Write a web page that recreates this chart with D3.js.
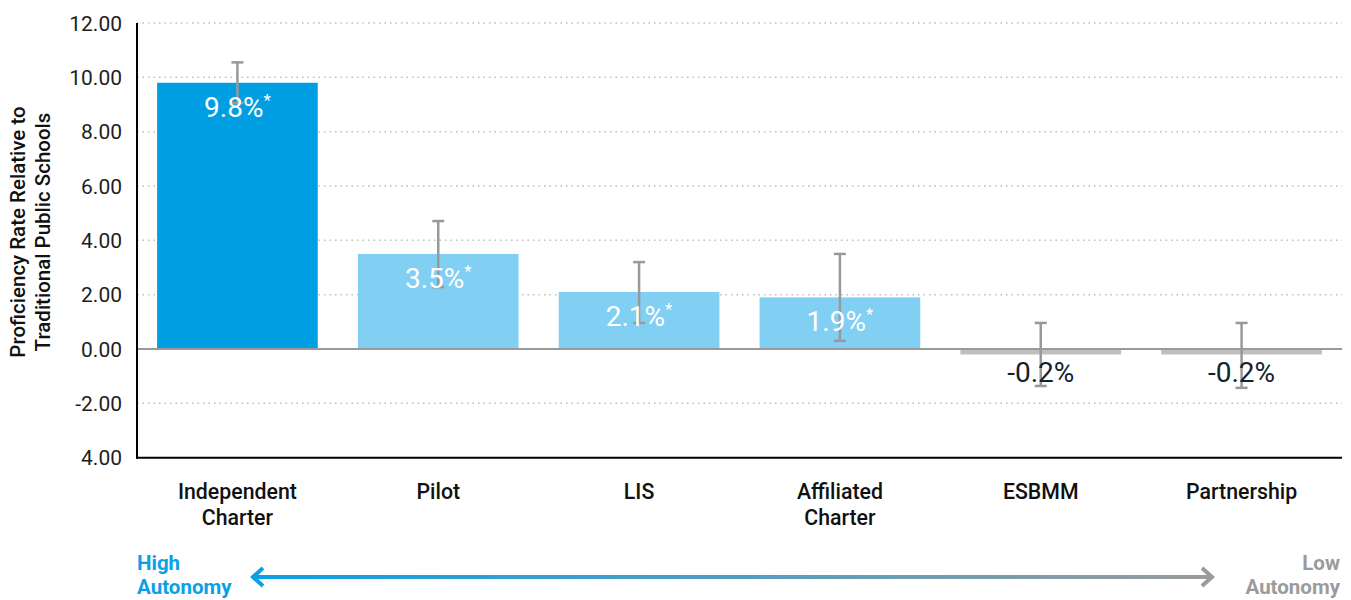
<!DOCTYPE html>
<html>
<head>
<meta charset="utf-8">
<script src="https://cdn.jsdelivr.net/npm/d3@7"></script>
<style>
  body { margin: 0; background: #fff; font-family: Roboto, "Noto Sans", sans-serif; }
</style>
</head>
<body>
<div class="chart"></div>
<script>
const width = 1351
const height = 600

const categories = [["Independent", "Charter"], ["Pilot"], ["LIS"], ["Affiliated", "Charter"], ["ESBMM"], ["Partnership"]]
const values = [9.8, 3.5, 2.1, 1.9, -0.2, -0.2]
const errLow = [9.05, 2.28, 0.96, 0.3, -1.36, -1.43]
const errHigh = [10.55, 4.71, 3.2, 3.5, 0.96, 0.96]
const labels = ["9.8%", "3.5%", "2.1%", "1.9%", "-0.2%", "-0.2%"]
const starred = [true, true, true, true, false, false]
const barColors = ["#009fe3", "#82cff4", "#82cff4", "#82cff4", "#bfbfbf", "#bfbfbf"]
const ticks = [12, 10, 8, 6, 4, 2, 0, -2, -4]
const tickText = ["12.00", "10.00", "8.00", "6.00", "4.00", "2.00", "0.00", "-2.00", "4.00"]

const svg = d3.select(".chart").append("svg")
  .attr("width", width)
  .attr("height", height)

const x = d3.scaleBand()
  .domain(d3.range(values.length))
  .range([137, 1342])
  .paddingInner(0.2)
  .paddingOuter(0.1)

const y = d3.scaleLinear()
  .domain([-4, 12])
  .range([457.7, 23])

// grid
svg.selectAll(".grid")
  .data(ticks.filter(t => t !== 0 && t !== -4))
  .enter().append("line")
  .attr("x1", 137).attr("x2", 1342)
  .attr("y1", d => y(d)).attr("y2", d => y(d))
  .attr("stroke", "#bdbdbd")
  .attr("stroke-width", 1.5)
  .attr("stroke-dasharray", "1.5 4")

// tick labels
svg.selectAll(".tick")
  .data(ticks)
  .enter().append("text")
  .attr("x", 122)
  .attr("y", d => y(d))
  .attr("dy", "0.36em")
  .attr("text-anchor", "end")
  .attr("font-size", 21)
  .attr("fill", "#1e1e1e")
  .text((d, i) => tickText[i])

// bars
svg.selectAll(".bar")
  .data(values)
  .enter().append("rect")
  .attr("x", (d, i) => x(i))
  .attr("width", x.bandwidth())
  .attr("y", d => y(Math.max(0, d)))
  .attr("height", d => Math.abs(y(d) - y(0)))
  .attr("fill", (d, i) => barColors[i])

// zero line
svg.append("line")
  .attr("x1", 137).attr("x2", 1342)
  .attr("y1", y(0)).attr("y2", y(0))
  .attr("stroke", "#9a9a9a").attr("stroke-width", 2)

// axes lines
svg.append("line")
  .attr("x1", 137).attr("x2", 137)
  .attr("y1", y(12)).attr("y2", y(-4) + 1)
  .attr("stroke", "#000").attr("stroke-width", 2)
svg.append("line")
  .attr("x1", 136).attr("x2", 1342)
  .attr("y1", y(-4)).attr("y2", y(-4))
  .attr("stroke", "#000").attr("stroke-width", 2)

// error bars
const eb = svg.selectAll(".err")
  .data(values)
  .enter().append("g")
  .attr("transform", (d, i) => `translate(${x(i) + x.bandwidth() / 2},0)`)
eb.append("line")
  .attr("y1", (d, i) => y(errLow[i])).attr("y2", (d, i) => y(errHigh[i]))
  .attr("stroke", "#999").attr("stroke-width", 2.5)
eb.append("line")
  .attr("x1", -6).attr("x2", 6)
  .attr("y1", (d, i) => y(errHigh[i])).attr("y2", (d, i) => y(errHigh[i]))
  .attr("stroke", "#999").attr("stroke-width", 2.5)
eb.append("line")
  .attr("x1", -6).attr("x2", 6)
  .attr("y1", (d, i) => y(errLow[i])).attr("y2", (d, i) => y(errLow[i]))
  .attr("stroke", "#999").attr("stroke-width", 2.5)

// value labels
const vl = svg.selectAll(".val")
  .data(values)
  .enter().append("text")
  .attr("x", (d, i) => x(i) + x.bandwidth() / 2)
  .attr("y", d => d >= 0 ? y(d) + 34 : y(0) + 33)
  .attr("text-anchor", "middle")
  .attr("font-size", 28)
  .attr("fill", d => d >= 0 ? "#fff" : "#13232c")
vl.append("tspan").text((d, i) => labels[i])
vl.append("tspan")
  .attr("font-size", 17)
  .attr("dy", -11)
  .text((d, i) => starred[i] ? "*" : "")

// category labels
svg.selectAll(".cat")
  .data(categories)
  .enter().append("text")
  .attr("x", (d, i) => x(i) + x.bandwidth() / 2)
  .attr("y", 499)
  .attr("text-anchor", "middle")
  .attr("font-size", 21.3)
  .attr("font-weight", 500)
  .attr("fill", "#111")
  .selectAll("tspan")
  .data(d => d)
  .enter().append("tspan")
  .attr("x", function () { return this.parentNode.getAttribute("x") })
  .attr("dy", (d, j) => j === 0 ? 0 : 26)
  .text(d => d)

// y axis title
svg.append("text")
  .attr("transform", "translate(25,232) rotate(-90)")
  .attr("text-anchor", "middle")
  .attr("font-size", 20.5)
  .attr("font-weight", 500)
  .attr("fill", "#111")
  .selectAll("tspan")
  .data(["Proficiency Rate Relative to", "Traditional Public Schools"])
  .enter().append("tspan")
  .attr("x", 0)
  .attr("dy", (d, j) => j === 0 ? 0 : 25)
  .text(d => d)

// autonomy arrow
const defs = svg.append("defs")
const grad = defs.append("linearGradient").attr("id", "arrowGrad")
  .attr("gradientUnits", "userSpaceOnUse")
  .attr("x1", 250).attr("x2", 1215).attr("y1", 0).attr("y2", 0)
grad.append("stop").attr("offset", "0%").attr("stop-color", "#0aa0e6")
grad.append("stop").attr("offset", "100%").attr("stop-color", "#9b9b9b")

svg.append("line")
  .attr("x1", 253).attr("x2", 1212)
  .attr("y1", 577).attr("y2", 577)
  .attr("stroke", "url(#arrowGrad)").attr("stroke-width", 4)
svg.append("path")
  .attr("d", "M263,568 L253,577 L263,586")
  .attr("fill", "none").attr("stroke", "#0aa0e6").attr("stroke-width", 4)
svg.append("path")
  .attr("d", "M1202,568 L1212,577 L1202,586")
  .attr("fill", "none").attr("stroke", "#9b9b9b").attr("stroke-width", 4)

svg.append("text")
  .attr("x", 137).attr("y", 570)
  .attr("font-size", 20.5).attr("font-weight", 700).attr("fill", "#0aa0e6")
  .selectAll("tspan").data(["High", "Autonomy"]).enter().append("tspan")
  .attr("x", 137).attr("dy", (d, j) => j === 0 ? 0 : 24).text(d => d)

svg.append("text")
  .attr("x", 1340).attr("y", 570)
  .attr("text-anchor", "end")
  .attr("font-size", 20.5).attr("font-weight", 700).attr("fill", "#9b9b9b")
  .selectAll("tspan").data(["Low", "Autonomy"]).enter().append("tspan")
  .attr("x", 1340).attr("dy", (d, j) => j === 0 ? 0 : 24).text(d => d)
</script>
</body>
</html>
